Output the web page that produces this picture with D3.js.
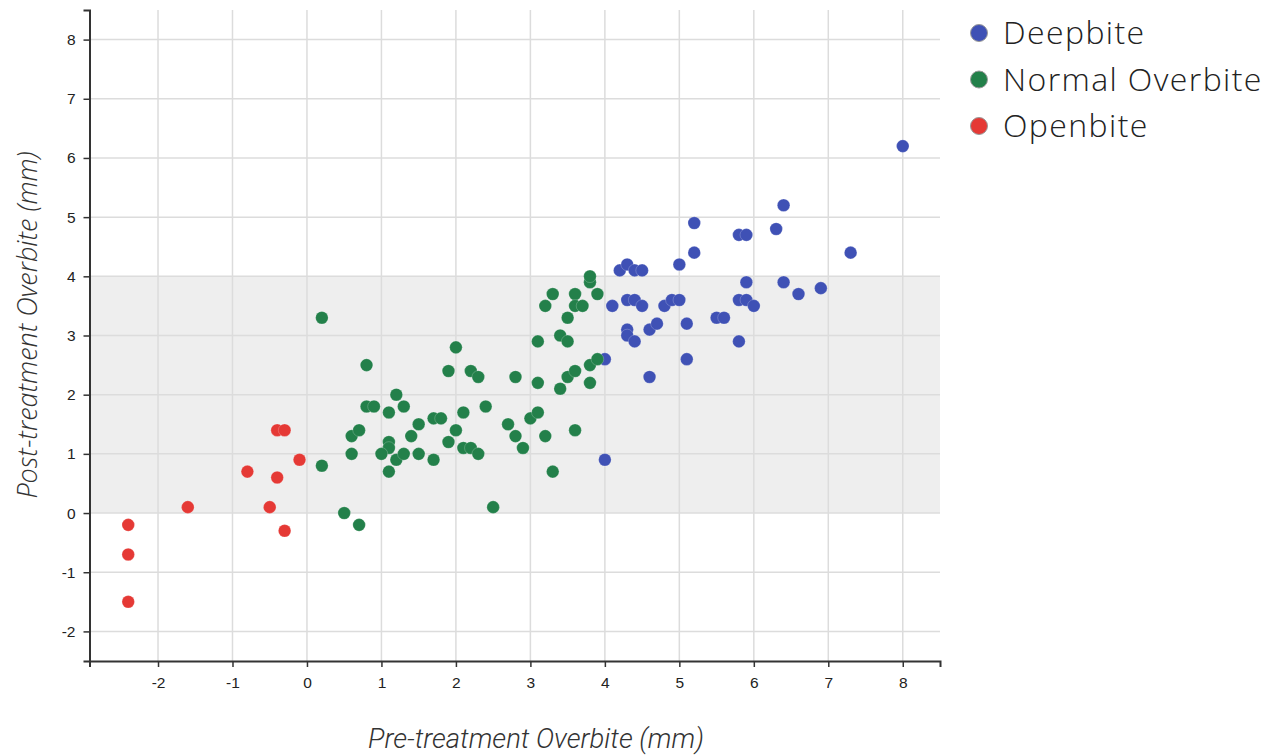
<!DOCTYPE html>
<html>
<head>
<meta charset="utf-8">
<script src="https://cdn.jsdelivr.net/npm/d3@7"></script>
<style>
  html, body { margin: 0; padding: 0; background: #fff; }
  svg { display: block; }
  .axis text { font-family: 'Liberation Sans', Arial, sans-serif; font-size: 15.5px; fill: #222; }
</style>
</head>
<body>
<svg id="chart" width="1277" height="755"></svg>
<script>
const categories = ["Deepbite", "Normal Overbite", "Openbite"];
const categoryColors = ["#3f51b5", "#23804a", "#e53935"];
const xTickValues = [-2, -1, 0, 1, 2, 3, 4, 5, 6, 7, 8];
const yTickValues = [-2, -1, 0, 1, 2, 3, 4, 5, 6, 7, 8];
const normalBand = [0, 4];

const deepbite = [
  [4.0,2.6],[4.0,0.9],[4.1,3.5],[4.2,4.1],[4.3,4.2],[4.4,4.1],[4.5,4.1],[4.3,3.6],[4.4,3.6],[4.5,3.5],
  [4.3,3.1],[4.3,3.0],[4.4,2.9],[4.6,3.1],[4.7,3.2],[4.6,2.3],[4.8,3.5],[4.9,3.6],[5.0,3.6],[5.0,4.2],
  [5.2,4.4],[5.2,4.9],[5.1,3.2],[5.1,2.6],[5.5,3.3],[5.6,3.3],[5.8,3.6],[5.9,3.6],[6.0,3.5],[5.9,3.9],
  [5.8,2.9],[5.8,4.7],[5.9,4.7],[6.3,4.8],[6.4,5.2],[6.4,3.9],[6.6,3.7],[6.9,3.8],[7.3,4.4],[8.0,6.2]
];
const normalOverbite = [
  [0.2,3.3],[0.8,2.5],[0.2,0.8],[0.5,0.0],[0.7,-0.2],[0.6,1.0],[0.6,1.3],[0.7,1.4],[0.8,1.8],[0.9,1.8],
  [1.1,1.7],[1.2,2.0],[1.3,1.8],[1.1,1.2],[1.1,1.1],[1.0,1.0],[1.1,0.7],[1.2,0.9],[1.3,1.0],[1.4,1.3],
  [1.5,1.5],[1.5,1.0],[1.7,0.9],[1.7,1.6],[1.8,1.6],[1.9,1.2],[1.9,2.4],[2.0,2.8],[2.0,1.4],[2.1,1.7],
  [2.1,1.1],[2.2,1.1],[2.3,1.0],[2.2,2.4],[2.3,2.3],[2.4,1.8],[2.5,0.1],[2.7,1.5],[2.8,2.3],[2.8,1.3],
  [2.9,1.1],[3.0,1.6],[3.1,1.7],[3.1,2.2],[3.1,2.9],[3.2,1.3],[3.3,0.7],[3.4,2.1],[3.5,2.3],[3.6,2.4],
  [3.6,1.4],[3.8,2.2],[3.8,2.5],[3.9,2.6],[3.4,3.0],[3.5,2.9],[3.5,3.3],[3.2,3.5],[3.3,3.7],[3.6,3.7],
  [3.6,3.5],[3.7,3.5],[3.8,3.9],[3.9,3.7],[3.8,4.0]
];
const openbite = [
  [-2.4,-0.2],[-2.4,-0.7],[-2.4,-1.5],[-1.6,0.1],[-0.8,0.7],[-0.4,1.4],[-0.3,1.4],[-0.4,0.6],
  [-0.5,0.1],[-0.3,-0.3],[-0.1,0.9]
];
const xDomain = [-2.92, 8.5];
const yDomain = [-2.5, 8.5];
const xTitle = "Pre-treatment Overbite (mm)";
const yTitle = "Post-treatment Overbite (mm)";

const series = [deepbite, normalOverbite, openbite];

const svg = d3.select("#chart");
const plotLeft = 89.5, plotRight = 940, plotTop = 10, plotBottom = 661;

const x = d3.scaleLinear().domain(xDomain).range([plotLeft, plotRight]);
const y = d3.scaleLinear().domain(yDomain).range([plotBottom, plotTop]);

// band
svg.append("rect")
  .attr("x", plotLeft).attr("width", plotRight - plotLeft)
  .attr("y", y(normalBand[1])).attr("height", y(normalBand[0]) - y(normalBand[1]))
  .attr("fill", "#eeeeee");

// grid
const grid = svg.append("g").attr("stroke", "#dcdcdc").attr("stroke-width", 1.5);
grid.selectAll("line.v").data(xTickValues).join("line").attr("class", "v")
  .attr("x1", d => x(d)).attr("x2", d => x(d))
  .attr("y1", plotTop).attr("y2", plotBottom);
grid.selectAll("line.h").data(yTickValues).join("line").attr("class", "h")
  .attr("y1", d => y(d)).attr("y2", d => y(d))
  .attr("x1", plotLeft).attr("x2", plotRight);

// axes
const fmt = d => String(d);
const xAxis = svg.append("g").attr("class", "axis").attr("transform", `translate(0,${plotBottom})`)
  .call(d3.axisBottom(x).tickValues(xTickValues).tickSize(6).tickSizeOuter(6).tickPadding(10).tickFormat(fmt));
const yAxis = svg.append("g").attr("class", "axis").attr("transform", `translate(${plotLeft},0)`)
  .call(d3.axisLeft(y).tickValues(yTickValues).tickSize(6).tickSizeOuter(6).tickPadding(8).tickFormat(fmt));
[xAxis, yAxis].forEach(a => {
  a.attr("font-size", null).attr("font-family", null);
  a.select(".domain").attr("stroke", "#333").attr("stroke-width", 2);
  a.selectAll(".tick line").attr("stroke", "#333").attr("stroke-width", 1.5);
  a.selectAll(".tick text").attr("fill", "#222");
});

// points
series.forEach((data, i) => {
  svg.append("g").selectAll("circle").data(data).join("circle")
    .attr("cx", d => x(d[0])).attr("cy", d => y(d[1]))
    .attr("r", 6.3)
    .attr("fill", categoryColors[i])
    .attr("stroke", "rgba(255,255,255,0.35)").attr("stroke-width", 0.6);
});

// axis titles
svg.append("text")
  .attr("x", 536).attr("y", 748)
  .attr("text-anchor", "middle")
  .attr("fill", "#333")
  .style("font-family", "Roboto, sans-serif").style("font-weight", 300)
  .style("font-style", "italic").style("font-size", "27.5px")
  .text(xTitle);
svg.append("text")
  .attr("transform", "translate(37,325) rotate(-90)")
  .attr("text-anchor", "middle")
  .attr("fill", "#333")
  .style("font-family", "'Open Sans', sans-serif").style("font-weight", 300)
  .style("font-style", "italic").style("font-size", "27px")
  .text(yTitle);

// legend
const legend = svg.append("g");
categories.forEach((c, i) => {
  const cy = 33 + i * 46.5;
  legend.append("circle").attr("cx", 979).attr("cy", cy).attr("r", 8.5)
    .attr("fill", categoryColors[i]).attr("stroke", "#999").attr("stroke-width", 1);
  legend.append("text").attr("x", 1003).attr("y", cy + 11)
    .attr("fill", "#222")
    .style("font-family", "'Open Sans', sans-serif").style("font-weight", 300)
    .style("font-size", "32px").style("letter-spacing", "1.4px")
    .text(c);
});
</script>
</body>
</html>
